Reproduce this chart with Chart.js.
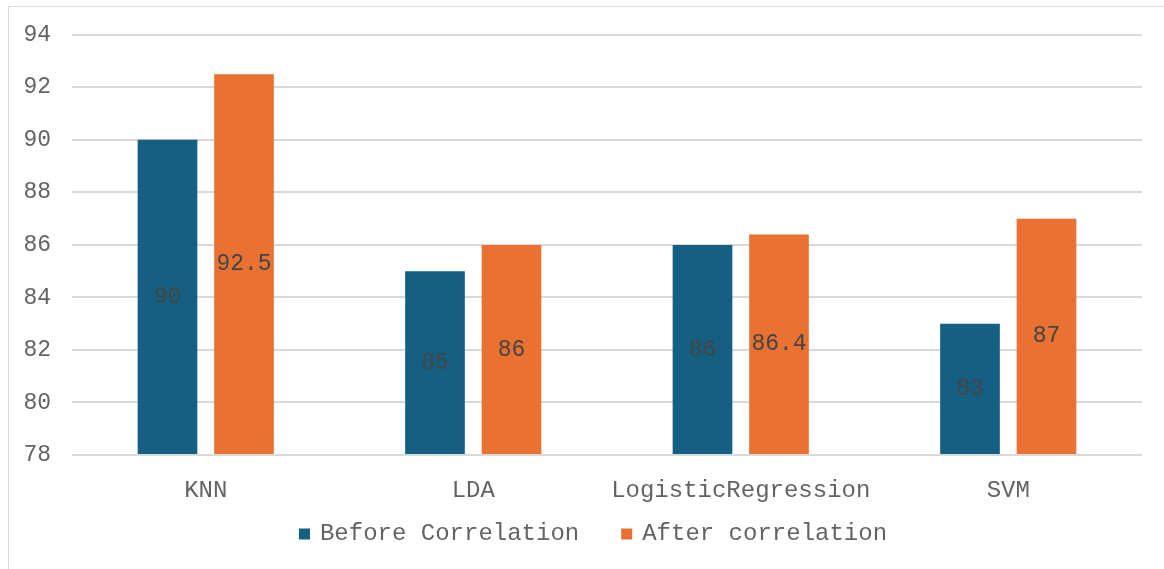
<!DOCTYPE html>
<html>
<head>
<meta charset="utf-8">
<script src="https://cdn.jsdelivr.net/npm/chart.js@4.4.1/dist/chart.umd.min.js"></script>
<style>
  html, body { margin: 0; padding: 0; background: #ffffff; overflow: hidden; }
  #wrap { position: relative; width: 1164px; height: 569px; }
  #frame { position: absolute; left: 8px; top: 6px; width: 1170px; height: 580px;
           border: 1px solid #d9d9d9; box-sizing: border-box; pointer-events: none; }
  canvas { position: absolute; left: 0; top: 0; }
</style>
</head>
<body>
<div id="wrap">
  <div id="frame"></div>
  <canvas id="chart" width="1164" height="569"></canvas>
</div>
<script>
// Accuracy (%) of each classifier before and after correlation-based feature removal
const categories = ["KNN", "LDA", "LogisticRegression", "SVM"];
const beforeCorrelation = [90, 85, 86, 83];
const afterCorrelation = [92.5, 86, 86.4, 87];
const seriesNames = ["Before Correlation", "After correlation"];
const yTicks = [78, 80, 82, 84, 86, 88, 90, 92, 94];

const FONT = '"Courier New", "Liberation Mono", monospace';
const BLUE = '#156082';
const ORANGE = '#e97132';
const TEXT = '#636363';

// value labels centred inside each bar
const barValueLabels = {
  id: 'barValueLabels',
  afterDatasetsDraw(chart) {
    const ctx = chart.ctx;
    const bottom = chart.chartArea.bottom;
    ctx.save();
    ctx.font = '23px ' + FONT;
    ctx.fillStyle = '#454545';
    ctx.textAlign = 'center';
    ctx.textBaseline = 'middle';
    chart.data.datasets.forEach((ds, di) => {
      chart.getDatasetMeta(di).data.forEach((bar, i) => {
        const base = Math.min(bar.base, bottom);
        ctx.fillText(String(ds.data[i]), bar.x, (bar.y + base) / 2);
      });
    });
    ctx.restore();
  }
};

// legend row under the category axis
const bottomLegend = {
  id: 'bottomLegend',
  afterDraw(chart) {
    const ctx = chart.ctx;
    ctx.save();
    ctx.font = '24px ' + FONT;
    ctx.textBaseline = 'middle';
    ctx.textAlign = 'left';
    const y = 534;
    const box = 11, gap = 10, spacing = 42;
    const widths = chart.data.datasets.map(ds => box + gap + ctx.measureText(ds.label).width);
    const total = widths.reduce((a, b) => a + b, 0) + spacing * (widths.length - 1);
    let x = 593 - total / 2;
    chart.data.datasets.forEach((ds, i) => {
      ctx.fillStyle = ds.backgroundColor;
      ctx.fillRect(x, y - box / 2, box, box);
      ctx.fillStyle = TEXT;
      ctx.fillText(ds.label, x + box + gap, y);
      x += widths[i] + spacing;
    });
    ctx.restore();
  }
};

new Chart(document.getElementById('chart'), {
  type: 'bar',
  data: {
    labels: categories,
    datasets: [
      { label: seriesNames[0], data: beforeCorrelation, backgroundColor: BLUE, base: yTicks[0] },
      { label: seriesNames[1], data: afterCorrelation, backgroundColor: ORANGE, base: yTicks[0] }
    ]
  },
  options: {
    responsive: false,
    animation: false,
    devicePixelRatio: 1,
    layout: { padding: { top: 34, left: 10, right: 22, bottom: 0 } },
    datasets: { bar: { categoryPercentage: 0.572, barPercentage: 0.78 } },
    plugins: { legend: { display: false }, tooltip: { enabled: false } },
    scales: {
      x: {
        grid: { display: false },
        border: { display: false },
        ticks: { color: TEXT, font: { family: FONT, size: 24 }, padding: 13 },
        afterFit(scale) { scale.height = 114; }
      },
      y: {
        min: 78,
        max: 94,
        afterBuildTicks(scale) { scale.ticks = yTicks.map(v => ({ value: v })); },
        grid: { color: '#d9d9d9', lineWidth: 2, drawTicks: false },
        border: { display: false },
        ticks: { color: TEXT, font: { family: FONT, size: 23 }, padding: 21 },
        afterFit(scale) { scale.width = 62; }
      }
    }
  },
  plugins: [barValueLabels, bottomLegend]
});
</script>
</body>
</html>
